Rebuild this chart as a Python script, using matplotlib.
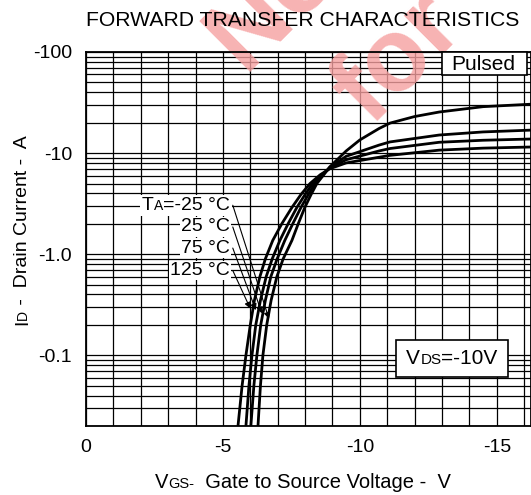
import matplotlib
matplotlib.use("Agg")
import matplotlib.pyplot as plt
from matplotlib.patches import Rectangle
from matplotlib.offsetbox import TextArea, HPacker, AnnotationBbox
from matplotlib.ticker import FixedLocator, NullFormatter

plt.rcParams['font.family'] = ['Liberation Sans', 'DejaVu Sans']

# ---------------- data (|VGS| in V, |ID| in A) ----------------
temps = ["-25", "25", "75", "125"]

v_m25 = [6.28, 6.37, 6.46, 6.60, 6.76, 6.97, 7.20, 7.52, 7.75, 7.99, 8.22, 8.43, 8.68, 8.90,
         9.50, 10.0, 10.7, 11.1, 12.0, 12.9, 14.5, 16.3]
i_m25 = [0.02, 0.05, 0.10, 0.20, 0.35, 0.60, 0.90, 1.37, 2.00, 2.90, 3.90, 5.00, 6.10, 7.30,
         10.5, 13.5, 17.5, 19.8, 23.0, 25.5, 28.8, 30.5]

v_25 = [6.02, 6.13, 6.24, 6.38, 6.55, 6.75, 6.98, 7.26, 7.55, 7.85, 8.12, 8.36, 8.65, 8.90,
        9.50, 10.7, 11.1, 12.9, 14.5, 16.3]
i_25 = [0.02, 0.05, 0.10, 0.20, 0.35, 0.60, 0.90, 1.37, 2.00, 2.90, 3.90, 5.00, 6.10, 7.20,
        9.30, 12.0, 12.9, 15.1, 16.2, 16.9]

v_75 = [5.84, 5.95, 6.06, 6.20, 6.37, 6.58, 6.80, 7.08, 7.38, 7.70, 8.00, 8.28, 8.60, 8.90,
        9.50, 10.7, 11.1, 12.9, 14.5, 16.3]
i_75 = [0.02, 0.05, 0.10, 0.20, 0.35, 0.60, 0.90, 1.37, 2.00, 2.90, 3.90, 5.00, 6.10, 7.10,
        8.60, 10.5, 11.1, 12.8, 13.4, 13.8]

v_125 = [5.55, 5.70, 5.84, 6.00, 6.15, 6.35, 6.55, 6.82, 7.15, 7.52, 7.85, 8.18, 8.55, 8.90,
         9.50, 10.7, 11.1, 12.9, 14.5, 16.3]
i_125 = [0.02, 0.05, 0.10, 0.20, 0.35, 0.60, 0.90, 1.37, 2.00, 2.90, 3.90, 5.00, 6.10, 7.00,
         8.00, 9.10, 9.50, 10.7, 11.2, 11.5]

curves_v = [v_m25, v_25, v_75, v_125]
curves_i = [i_m25, i_25, i_75, i_125]

x_ticks = [0, 5, 10, 15]
x_ticklabels = ["0", "-5", "-10", "-15"]
y_ticks = [0.1, 1, 10, 100]
y_ticklabels = ["-0.1", "-1.0", "-10", "-100"]

# label anchors (text right end) and arrow tips
label_y = [3.05, 1.86, 1.15, 0.69]
arrow_tips_v = [6.68, 6.42, 6.20, 6.00]
arrow_tips_i = [0.23, 0.26, 0.28, 0.29]

# ---------------- figure ----------------
W, H = 531, 495
fig = plt.figure(figsize=(W / 100, H / 100), dpi=100)
L, R, T, B = 86, 531, 52, 426
ax = fig.add_axes([L / W, 1 - B / H, (R - L) / W, (B - T) / H])
ax.set_xlim(0, 16.25)
ax.set_yscale('log')
ax.set_ylim(0.02, 100)
ax.set_axisbelow(True)

ax.xaxis.set_major_locator(FixedLocator(x_ticks))
ax.set_xticklabels(x_ticklabels)
ax.xaxis.set_minor_locator(FixedLocator(list(range(1, 17))))
ax.set_yticks(y_ticks)
ax.set_yticklabels(y_ticklabels)
minors = [m * 10.0 ** e for e in (-2, -1, 0, 1) for m in range(2, 10)]
ax.yaxis.set_minor_locator(FixedLocator(minors))
ax.yaxis.set_minor_formatter(NullFormatter())
ax.tick_params(which='both', length=0)
ax.tick_params(axis='x', pad=9, labelsize=14)
ax.tick_params(axis='y', pad=10, labelsize=14)
ax.grid(True, which='both', color='black', lw=0.9)
for s in ax.spines.values():
    s.set_linewidth(1.3)
    s.set_color('black')

for v, i in zip(curves_v, curves_i):
    ax.plot(v, i, color='black', lw=2.0, zorder=3, solid_capstyle='butt')

# ---------------- watermark ----------------
wm = dict(fontsize=74, fontweight='bold', color='#f6a0a0', alpha=0.8, rotation=45,
          rotation_mode='anchor', ha='left', va='baseline', transform=fig.transFigure,
          zorder=1, clip_on=False)
ax.text(243 / W, 1 - 72 / H, "Not", **wm)
ax.text(370 / W, 1 - 126 / H, "for", **wm)

# ---------------- title ----------------
fig.text(303 / W, 1 - 20 / H, "FORWARD TRANSFER CHARACTERISTICS", ha='center', va='center',
         fontsize=15.2)


def mixed(parts, xy, xycoords, align, frame=False, pad=0.0, bprops=None, zorder=4):
    kids = [TextArea(s, textprops=dict(fontsize=fs, color='black')) for s, fs in parts]
    pk = HPacker(children=kids, align='baseline', pad=0, sep=0)
    ab = AnnotationBbox(pk, xy, xycoords=xycoords, box_alignment=align, frameon=frame,
                        pad=pad, bboxprops=bprops or {}, zorder=zorder)
    ax.add_artist(ab)
    return ab


# x label
mixed([("V", 14.5), ("GS-", 10.5), ("  Gate to Source Voltage -  V", 14.5)],
      (303 / W, 1 - 482 / H), 'figure fraction', (0.5, 0.5))

# y label (rotated pieces laid out along the axis)
fig.canvas.draw()
ren = fig.canvas.get_renderer()
pieces = [("I", 14), ("D", 10), (" -  Drain Current -  A", 14)]
tmp = []
tot = 0
for s, fs in pieces:
    t = fig.text(0, 0, s, fontsize=fs)
    w = t.get_window_extent(ren).width
    tmp.append(w)
    tot += w
    t.remove()
x0 = 27
y0 = H - 230 - tot / 2  # display coords from bottom
pos = y0
for (s, fs), w in zip(pieces, tmp):
    fig.text(x0 / W, pos / H, s, fontsize=fs, rotation=90, rotation_mode='anchor',
             ha='left', va='baseline')
    pos += w

# Pulsed box
ax.add_patch(Rectangle(((442 - L) / (R - L), (B - 75) / (B - T)), (527 - 442) / (R - L),
                       (75 - T) / (B - T), transform=ax.transAxes, facecolor='white',
                       edgecolor='black', lw=1.2, zorder=4, clip_on=False))
ax.text((483 - L) / (R - L), (B - 64) / (B - T), "Pulsed", transform=ax.transAxes,
        ha='center', va='center', fontsize=15, zorder=5)

# VDS box
ax.add_patch(Rectangle(((396 - L) / (R - L), (B - 377) / (B - T)), (508 - 396) / (R - L),
                       (377 - 340) / (B - T), transform=ax.transAxes, facecolor='white',
                       edgecolor='black', lw=1.2, zorder=4))
mixed([("V", 15), ("DS", 11), ("=-10V", 15)], ((452 - L) / (R - L), (B - 358) / (B - T)),
      'axes fraction', (0.5, 0.5), zorder=5)

# temperature labels with arrows
lx = 5.26
wbox = dict(facecolor='white', edgecolor='none')
mixed([("T", 14), ("A", 10), ("=-25 °C", 14)], (lx, label_y[0]), 'data', (1.0, 0.5),
      frame=True, pad=0.15, bprops=wbox)
for k in range(1, 4):
    ax.text(lx, label_y[k], temps[k] + " °C", ha='right', va='center', fontsize=14,
            zorder=4, bbox=dict(facecolor='white', edgecolor='none', pad=1.0))
for k in range(4):
    ax.annotate("", xy=(arrow_tips_v[k], arrow_tips_i[k]), xytext=(lx + 0.1, label_y[k]),
                arrowprops=dict(arrowstyle='-|>', lw=0.8, color='black', mutation_scale=9,
                                shrinkA=0, shrinkB=0), zorder=4)

fig.savefig("out.png", dpi=100)
